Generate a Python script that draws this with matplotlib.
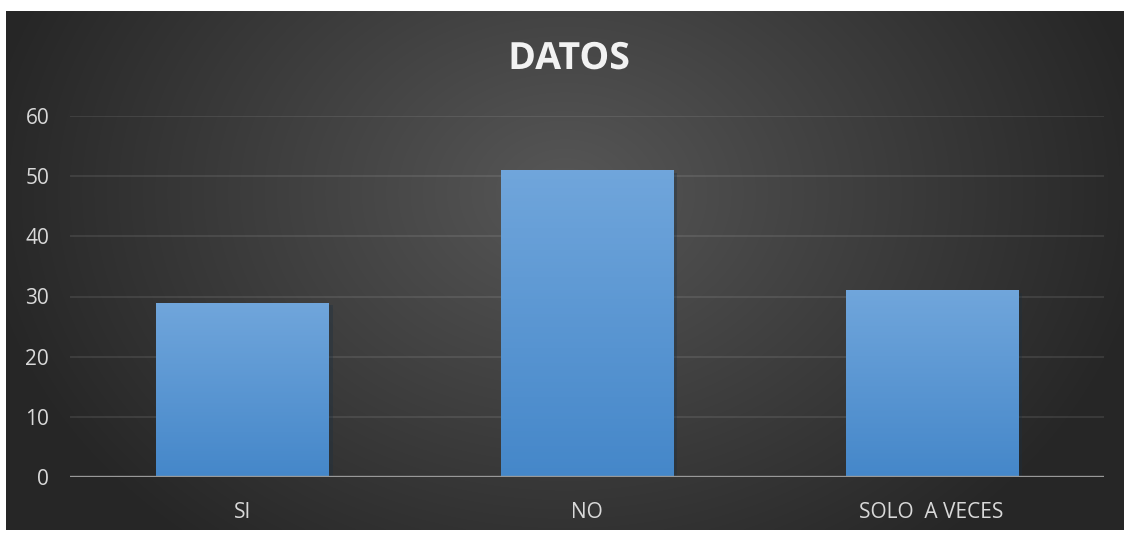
import matplotlib.pyplot as plt
import matplotlib.patheffects as pe
import numpy as np

categorias = ['SI', 'NO', 'SOLO  A VECES']
valores = [29, 51, 31]
ticks_y = [0, 10, 20, 30, 40, 50, 60]
titulo = 'DATOS'

plt.rcParams['font.family'] = ['Open Sans', 'DejaVu Sans']

fig = plt.figure(figsize=(11.24, 5.33), dpi=100)
fig.patch.set_facecolor('white')

# fondo oscuro con degradado radial
bg = fig.add_axes([6 / 1124, 3 / 533, 1118 / 1124, 519 / 533])
bg.set_axis_off()
yy, xx = np.mgrid[0:1:300j, 0:1:600j]
r = np.sqrt(((xx - 0.5) * 1.5) ** 2 + ((yy - 0.35) * 0.9) ** 2)
gris = np.clip(0.34 - 0.24 * r, 0.15, 0.34)
bg.imshow(np.dstack([gris, gris, gris]), aspect='auto', extent=[0, 1, 0, 1],
          origin='upper', interpolation='bicubic')
bg.set_xlim(0, 1)
bg.set_ylim(0, 1)

ax = fig.add_axes([70 / 1124, 56 / 533, 1034 / 1124, 361 / 533])
ax.patch.set_alpha(0)
x = np.arange(len(categorias))
barras = ax.bar(x, valores, width=0.5, color='#5b9bd5', zorder=3,
                path_effects=[pe.SimplePatchShadow(offset=(3, -2), alpha=0.35), pe.Normal()])

# degradado vertical dentro de cada barra
grad = np.linspace(0, 1, 100).reshape(-1, 1)
top = np.array([0.44, 0.65, 0.86])
bottom = np.array([0.27, 0.53, 0.79])
img = top + (bottom - top) * grad[..., None]
for b in barras:
    x0, y0 = b.get_x(), b.get_y()
    im = ax.imshow(img, extent=[x0, x0 + b.get_width(), y0, y0 + b.get_height()],
                   aspect='auto', origin='upper', zorder=4)
    im.set_clip_path(b)

ax.set_xlim(-0.5, len(categorias) - 0.5)
ax.set_ylim(0, 60)
ax.set_yticks(ticks_y)
ax.set_xticks(x)
ax.set_xticklabels(categorias)
ax.yaxis.grid(True, color='#ffffff', alpha=0.11, linewidth=1.2, zorder=0)
ax.axhline(0, color='#999999', linewidth=2.4, zorder=5)
for s in ax.spines.values():
    s.set_visible(False)
ax.tick_params(axis='both', length=0, colors='#d9d9d9', labelsize=15)
ax.tick_params(axis='y', pad=15)
ax.tick_params(axis='x', pad=18)

fig.text(569 / 1124, 1 - 59 / 533, titulo, ha='center', va='center',
         fontsize=27, fontweight='bold', color='#f2f2f2',
         path_effects=[pe.SimplePatchShadow(offset=(1.5, -1.5), alpha=0.4), pe.Normal()])

fig.savefig('out.png', dpi=100, facecolor='white')
